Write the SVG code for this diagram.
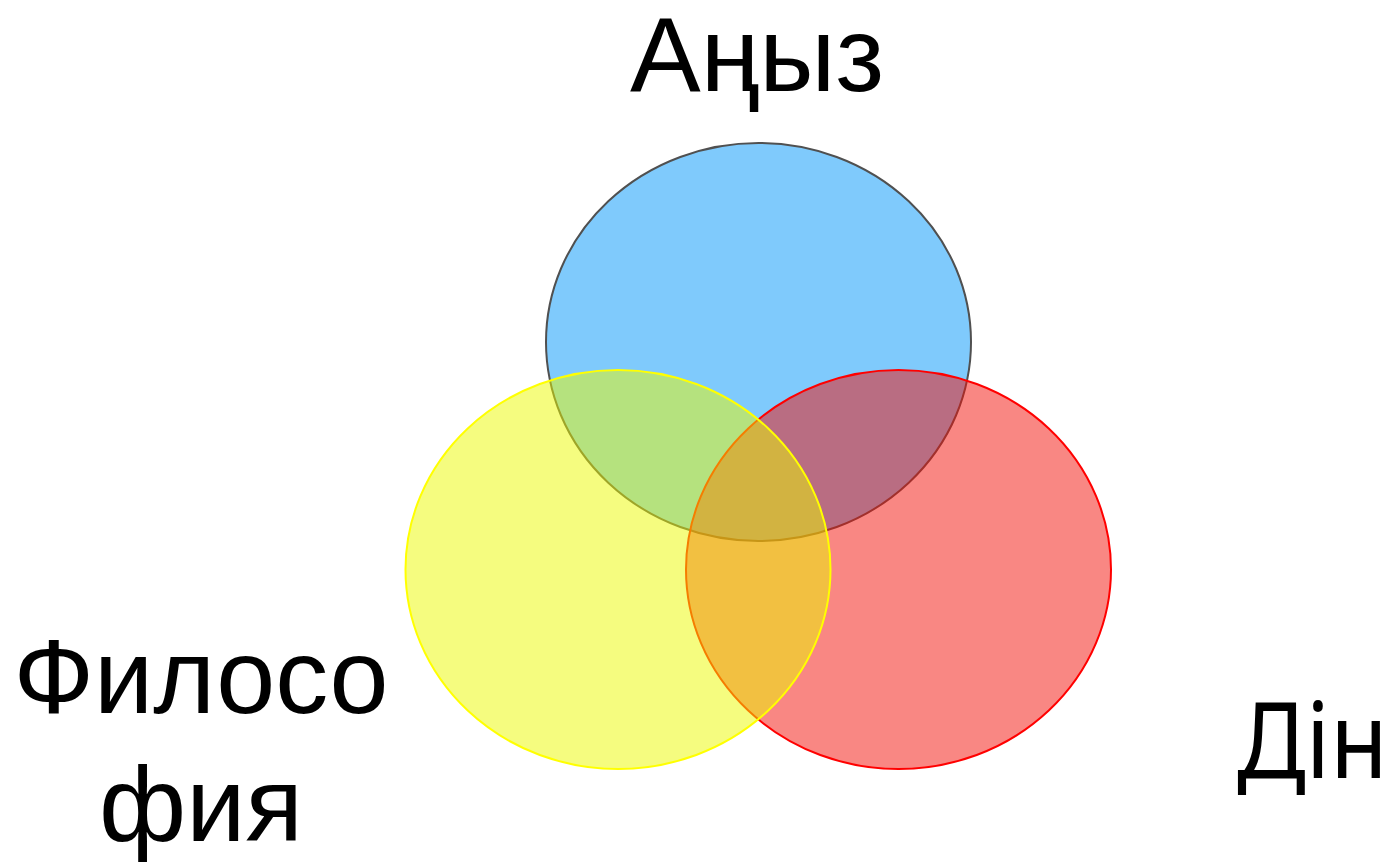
<svg xmlns="http://www.w3.org/2000/svg" width="1393" height="862" viewBox="0 0 1393 862">
<style>
.lbl{font-family:"Liberation Sans",Arial,sans-serif;font-size:106px;fill:#000;text-anchor:middle}
.lbl2{font-family:"Noto Sans","Open Sans",sans-serif;font-size:106px;fill:#000}
</style>
<rect width="1393" height="862" fill="#fff"/>
<g id="blue">
<ellipse cx="758.5" cy="342" rx="212.5" ry="199" fill="#7FCAFC" stroke="#505050" stroke-width="2"/>
</g>
<g id="red">
<ellipse cx="898.5" cy="569.5" rx="212.5" ry="199.5" fill="rgb(243,16,8)" fill-opacity="0.5" stroke="#FF0000" stroke-width="2"/>
</g>
<g id="yellow">
<ellipse cx="618" cy="569.5" rx="212.5" ry="199.5" fill="rgb(236,249,0)" fill-opacity="0.5" stroke="#FFFF00" stroke-width="2"/>
</g>
<g id="labels">
<text class="lbl" x="757" y="91">Аңыз</text>
<text class="lbl" x="201" y="713">Филосо</text>
<text class="lbl" x="201" y="841">фия</text>
<text class="lbl2" x="1237" y="778" textLength="151" lengthAdjust="spacingAndGlyphs">Дін</text>
</g>
</svg>
